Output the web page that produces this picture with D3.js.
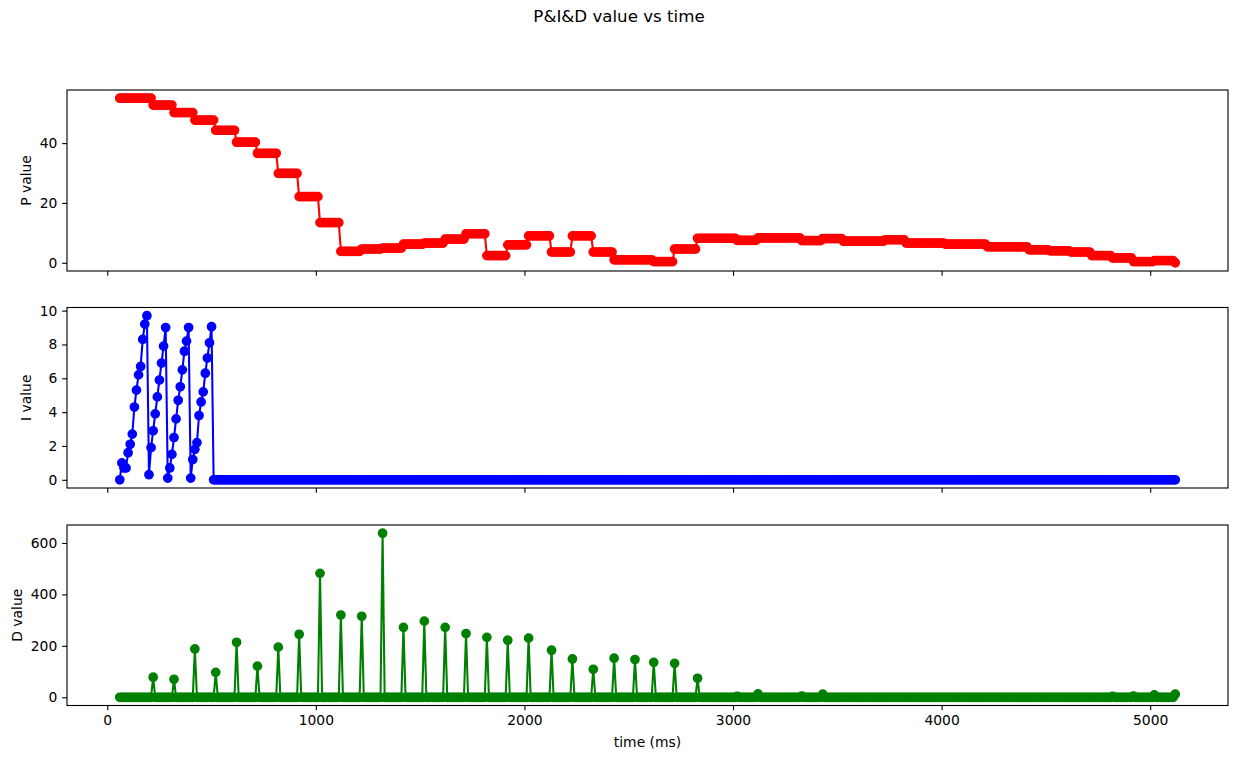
<!DOCTYPE html>
<html><head><meta charset="utf-8">
<script src="https://cdn.jsdelivr.net/npm/d3@7"></script>
<style>
body{margin:0;background:#fff}
svg{display:block}
text{font-family:"DejaVu Sans",sans-serif;fill:#000}
</style>
</head><body>
<svg id="c" width="1238" height="759"></svg>
<script>
// ---------------- DATA ----------------
const TITLE = "P&I&D value vs time";
const X_LABEL = "time (ms)";
// sampling of the recorded signal (ms)
const SAMPLE_START_MS = 60, SAMPLE_STEP_MS = 10, SAMPLE_END_MS = 5120;

// P value: level held from each change time onward
const P_CHANGE_MS = [60, 220, 320, 420, 520, 620, 720, 820, 920, 1020, 1120, 1220, 1320, 1420, 1520, 1620, 1720, 1820, 1920, 2020, 2130, 2230, 2330, 2430, 2530, 2620, 2720, 2830, 3020, 3120, 3330, 3430, 3530, 3730, 3830, 4020, 4220, 4420, 4520, 4620, 4720, 4820, 4920, 5020, 5120];
const P_LEVEL     = [55.0, 52.7, 50.2, 47.7, 44.3, 40.3, 36.6, 29.9, 22.1, 13.4, 3.8, 4.6, 4.9, 6.2, 6.6, 7.9, 9.7, 2.4, 6.0, 9.0, 3.6, 9.0, 3.6, 1.0, 1.0, 0.4, 4.6, 8.2, 7.5, 8.3, 7.4, 8.1, 7.2, 7.7, 6.6, 6.2, 5.3, 4.3, 4.0, 3.6, 2.4, 1.6, 0.4, 0.7, 0.0];

// I value: first samples (integrator ramps), zero afterwards
const I_HEAD = [0, 1.0, 0.7, 0.7, 1.6, 2.1, 2.7, 4.3, 5.3, 6.2, 6.7, 8.3, 9.2, 9.7,
                0.3, 1.9, 2.9, 3.9, 4.9, 5.9, 6.9, 7.9, 9.0,
                0.1, 0.7, 1.5, 2.5, 3.6, 4.7, 5.5, 6.5, 7.6, 8.2, 9.0,
                0.1, 1.2, 1.8, 2.2, 3.8, 4.6, 5.2, 6.3, 7.2, 8.1, 9.05];
const I_REST = 0;

// D value: spikes at these times, zero elsewhere
const D_SPIKE_MS  = [220, 320, 420, 520, 620, 720, 820, 920, 1020, 1120, 1220, 1320, 1420, 1520, 1620, 1720, 1820, 1920, 2020, 2130, 2230, 2330, 2430, 2530, 2620, 2720, 2830, 3020, 3120, 3330, 3430, 4820, 4920, 5020, 5120];
const D_SPIKE_VAL = [78, 70, 188, 97, 214, 121, 195, 245, 482, 320, 315, 638, 272, 296, 272, 248, 233, 222, 230, 183, 149, 109, 152, 147, 136, 132, 74, 4, 13, 5, 12, 4, 5, 9, 12];

const X_TICKS = [0, 1000, 2000, 3000, 4000, 5000];
const P_TICKS = [0, 20, 40];
const I_TICKS = [0, 2, 4, 6, 8, 10];
const D_TICKS = [0, 200, 400, 600];

// ---------------- BUILD SERIES ----------------
const times = d3.range(SAMPLE_START_MS, SAMPLE_END_MS + 1, SAMPLE_STEP_MS);
const P = times.map(t => P_LEVEL[d3.bisectRight(P_CHANGE_MS, t) - 1]);
const I = times.map((t, i) => i < I_HEAD.length ? I_HEAD[i] : I_REST);
const dMap = new Map(D_SPIKE_MS.map((t, i) => [t, D_SPIKE_VAL[i]]));
const D = times.map(t => dMap.has(t) ? dMap.get(t) : 0);

// ---------------- DRAW ----------------
const svg = d3.select("#c");
const W = 1238, H = 759;
const L = 67, R = 1228;
const PT = 100 / 72;
const TICK = 3.5 * PT, PAD = 3.5 * PT, FS = 10 * PT;

function padDom([a, b]) { const m = (b - a) * 0.05; return [a - m, b + m]; }

const x = d3.scaleLinear().domain(padDom(d3.extent(times))).range([L, R]);

const panels = [
  {vals: P, color: "#ff0000", label: "P value", ticks: P_TICKS, top: 90, bottom: 271, xl: false},
  {vals: I, color: "#0000ff", label: "I value", ticks: I_TICKS, top: 307.5, bottom: 488, xl: false},
  {vals: D, color: "#008000", label: "D value", ticks: D_TICKS, top: 525, bottom: 705.5, xl: true}
];

svg.append("text").attr("x", W / 2).attr("y", 16).attr("text-anchor", "middle")
  .attr("dominant-baseline", "central").style("font-size", (12 * PT) + "px").text(TITLE);

panels.forEach(p => {
  const y = d3.scaleLinear().domain(padDom(d3.extent(p.vals))).range([p.bottom, p.top]);
  const g = svg.append("g");
  const clipId = "clip" + p.label[0];
  svg.append("clipPath").attr("id", clipId).append("rect")
    .attr("x", L).attr("y", p.top).attr("width", R - L).attr("height", p.bottom - p.top);
  const plot = g.append("g").attr("clip-path", `url(#${clipId})`);
  const data = times.map((t, i) => [t, p.vals[i]]);
  plot.append("path").datum(data)
    .attr("d", d3.line().x(d => x(d[0])).y(d => y(d[1])))
    .attr("fill", "none").attr("stroke", p.color).attr("stroke-width", 1.5 * PT)
    .attr("stroke-linejoin", "round").attr("stroke-linecap", "butt");
  plot.append("g").selectAll("circle").data(data).join("circle")
    .attr("cx", d => x(d[0])).attr("cy", d => y(d[1])).attr("r", 3 * PT)
    .attr("fill", p.color).attr("stroke", p.color).attr("stroke-width", 1 * PT);

  // y axis
  const ya = g.append("g").attr("transform", `translate(${L},0)`)
    .call(d3.axisLeft(y).tickValues(p.ticks).tickSize(TICK).tickPadding(PAD).tickFormat(d3.format("d")));
  ya.select(".domain").remove();
  ya.selectAll("line").attr("stroke", "#000").attr("stroke-width", 0.8 * PT);
  ya.selectAll("text").style("font-size", FS + "px").attr("fill", "#000");

  // x axis
  const xa = g.append("g").attr("transform", `translate(0,${p.bottom})`)
    .call(d3.axisBottom(x).tickValues(X_TICKS).tickSize(TICK).tickPadding(PAD)
      .tickFormat(p.xl ? d3.format("d") : () => ""));
  xa.select(".domain").remove();
  xa.selectAll("line").attr("stroke", "#000").attr("stroke-width", 0.8 * PT);
  xa.selectAll("text").style("font-size", FS + "px").attr("fill", "#000");

  // frame
  g.append("rect").attr("x", L).attr("y", p.top).attr("width", R - L).attr("height", p.bottom - p.top)
    .attr("fill", "none").attr("stroke", "#000").attr("stroke-width", 0.8 * PT);

  // y label
  let minX = L;
  ya.selectAll("text").each(function () { const b = this.getBBox(); const m = this.getCTM(); minX = Math.min(minX, b.x + m.e); });
  const lx = minX - 4 * PT;
  const ly = (p.top + p.bottom) / 2;
  svg.append("text").attr("transform", `translate(${lx},${ly}) rotate(-90)`)
    .attr("text-anchor", "middle").attr("dominant-baseline", "text-after-edge")
    .style("font-size", FS + "px").text(p.label);

  if (p.xl) {
    let maxY = p.bottom;
    xa.selectAll("text").each(function () { const b = this.getBBox(); const m = this.getCTM(); maxY = Math.max(maxY, b.y + b.height + m.f); });
    svg.append("text").attr("x", (L + R) / 2).attr("y", maxY + 4 * PT)
      .attr("text-anchor", "middle").attr("dominant-baseline", "text-before-edge")
      .style("font-size", FS + "px").text(X_LABEL);
  }
});
</script>
</body></html>
